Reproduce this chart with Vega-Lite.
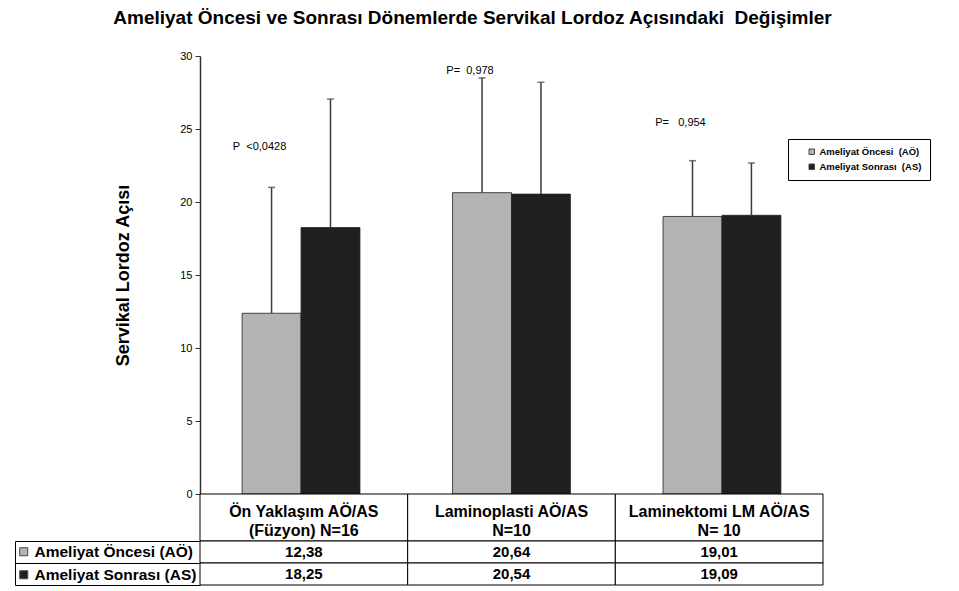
{
  "$schema": "https://vega.github.io/schema/vega-lite/v6.json",
  "padding": {"left": 14, "top": 9, "right": 10, "bottom": 2},
  "background": "white",
  "title": {
    "text": "Ameliyat Öncesi ve Sonrası Dönemlerde Servikal Lordoz Açısındaki\u00a0\u00a0Değişimler",
    "fontSize": 19, "fontWeight": "bold", "font": "Liberation Sans", "color": "#000",
    "anchor": "middle", "offset": 22
  },
  "datasets": {
    "bars": [
      {"category": "Ön Yaklaşım AÖ/AS\n(Füzyon) N=16", "series": "Ameliyat Öncesi (AÖ)", "value": 12.38, "upper": 21.0},
      {"category": "Ön Yaklaşım AÖ/AS\n(Füzyon) N=16", "series": "Ameliyat Sonrası (AS)", "value": 18.25, "upper": 27.05},
      {"category": "Laminoplasti AÖ/AS\nN=10", "series": "Ameliyat Öncesi (AÖ)", "value": 20.64, "upper": 28.5},
      {"category": "Laminoplasti AÖ/AS\nN=10", "series": "Ameliyat Sonrası (AS)", "value": 20.54, "upper": 28.2},
      {"category": "Laminektomi LM AÖ/AS\nN= 10", "series": "Ameliyat Öncesi (AÖ)", "value": 19.01, "upper": 22.83},
      {"category": "Laminektomi LM AÖ/AS\nN= 10", "series": "Ameliyat Sonrası (AS)", "value": 19.09, "upper": 22.67}
    ],
    "pvals": [
      {"category": "Ön Yaklaşım AÖ/AS\n(Füzyon) N=16", "series": "Ameliyat Öncesi (AÖ)", "label": "P\u00a0\u00a0<0,0428", "pos": 23.8},
      {"category": "Laminoplasti AÖ/AS\nN=10", "series": "Ameliyat Öncesi (AÖ)", "label": "P=\u00a0\u00a00,978", "pos": 29.0},
      {"category": "Laminektomi LM AÖ/AS\nN= 10", "series": "Ameliyat Öncesi (AÖ)", "label": "P=\u00a0\u00a0\u00a00,954", "pos": 25.4}
    ],
    "header": [
      {"category": "Ön Yaklaşım AÖ/AS\n(Füzyon) N=16"},
      {"category": "Laminoplasti AÖ/AS\nN=10"},
      {"category": "Laminektomi LM AÖ/AS\nN= 10"}
    ]
  },
  "spacing": 0,
  "bounds": "flush",
  "resolve": {"legend": {"fill": "independent"}},
  "vconcat": [
    {
      "width": 623,
      "height": 438,
      "data": {"name": "bars"},
      "layer": [
        {
          "mark": {"type": "bar", "stroke": "#222", "strokeWidth": 0.8},
          "encoding": {
            "x": {"field": "category", "type": "nominal", "sort": null, "axis": null, "scale": {"paddingInner": 0.44, "paddingOuter": 0.2}},
            "xOffset": {"field": "series", "type": "nominal", "sort": null},
            "y": {
              "field": "value", "type": "quantitative", "title": "Servikal Lordoz Açısı",
              "scale": {"domain": [0, 30]},
              "axis": {
                "titleFontSize": 18, "titleFontWeight": "bold", "titleColor": "#000", "titlePadding": 47,
                "values": [0, 5, 10, 15, 20, 25, 30], "labelFontSize": 11, "labelColor": "#000",
                "tickColor": "#333", "domainColor": "#333", "domainWidth": 1.5, "tickSize": 5, "grid": false, "labelPadding": 3
              }
            },
            "fill": {
              "field": "series", "type": "nominal", "sort": null,
              "scale": {"range": ["#b3b3b3", "#1f1f1f"]},
              "legend": {
                "orient": "none", "legendX": 588, "legendY": 83, "title": null,
                "strokeColor": "#000", "fillColor": "white", "padding": 8, "symbolOffset": 11,
                "symbolType": "square", "symbolSize": 30, "symbolStrokeColor": "#444", "symbolStrokeWidth": 1,
                "labelFontSize": 9.5, "labelFontWeight": "bold", "labelColor": "#000", "rowPadding": 4, "labelOffset": 3,
                "labelExpr": "replace(datum.label, ' (', '\u00a0\u00a0(') + '\u00a0\u00a0\u00a0\u00a0\u00a0\u00a0'"
              }
            }
          }
        },
        {
          "mark": {"type": "rule", "color": "#3c3c3c", "strokeWidth": 1.5},
          "encoding": {
            "x": {"field": "category", "type": "nominal", "sort": null},
            "xOffset": {"field": "series", "type": "nominal", "sort": null},
            "y": {"field": "value", "type": "quantitative", "title": "Servikal Lordoz Açısı"},
            "y2": {"field": "upper"}
          }
        },
        {
          "mark": {"type": "tick", "color": "#3c3c3c", "thickness": 1.5, "size": 7},
          "encoding": {
            "x": {"field": "category", "type": "nominal", "sort": null},
            "xOffset": {"field": "series", "type": "nominal", "sort": null},
            "y": {"field": "upper", "type": "quantitative", "title": "Servikal Lordoz Açısı"}
          }
        },
        {
          "data": {"name": "pvals"},
          "mark": {"type": "text", "fontSize": 11, "dx": -12, "align": "center", "color": "#000"},
          "encoding": {
            "x": {"field": "category", "type": "nominal", "sort": null},
            "xOffset": {"field": "series", "type": "nominal", "sort": null},
            "y": {"field": "pos", "type": "quantitative", "title": "Servikal Lordoz Açısı"},
            "text": {"field": "label"}
          }
        }
      ]
    },
    {
      "width": 623,
      "height": 47,
      "data": {"name": "header"},
      "encoding": {
        "x": {"field": "category", "type": "nominal", "sort": null, "axis": null, "scale": {"paddingInner": 0, "paddingOuter": 0}}
      },
      "layer": [
        {"mark": {"type": "rect", "fill": "white", "stroke": "#000", "strokeWidth": 1}},
        {
          "mark": {"type": "text", "fontSize": 16, "fontWeight": "bold", "lineBreak": "\n", "lineHeight": 19, "dy": -6, "color": "#000"},
          "encoding": {"text": {"field": "category"}}
        }
      ]
    },
    {
      "width": 623,
      "height": 44,
      "data": {"name": "bars"},
      "encoding": {
        "x": {"field": "category", "type": "nominal", "sort": null, "axis": null, "scale": {"paddingInner": 0, "paddingOuter": 0}},
        "y": {
          "field": "series", "type": "nominal", "sort": null,
          "scale": {"paddingInner": 0, "paddingOuter": 0},
          "axis": {
            "orient": "left", "offset": 185, "tickSize": -185, "tickBand": "extent",
            "tickColor": "#000", "tickWidth": 1, "domainColor": "#000", "domainWidth": 1,
            "labels": false, "title": null, "grid": false
          }
        }
      },
      "layer": [
        {"mark": {"type": "rect", "fill": "white", "stroke": "#000", "strokeWidth": 1}},
        {
          "mark": {"type": "text", "fontSize": 15, "fontWeight": "bold", "color": "#000"},
          "encoding": {"text": {"field": "value", "type": "quantitative", "format": ".2f"}}
        },
        {
          "mark": {"type": "text"},
          "encoding": {
            "text": {"value": ""},
            "fill": {
              "field": "series", "type": "nominal", "sort": null,
              "legend": {
                "orient": "none", "legendX": -184, "legendY": 3, "title": null,
                "symbolType": "square", "symbolSize": 64, "symbolStrokeColor": "#444", "symbolStrokeWidth": 1,
                "labelFontSize": 15.5, "labelFontWeight": "bold", "labelColor": "#000", "labelOffset": 3,
                "rowPadding": 6, "padding": 0, "labelLimit": 220
              }
            }
          }
        }
      ]
    }
  ],
  "config": {
    "view": {"stroke": null},
    "font": "Liberation Sans",
    "locale": {"number": {"decimal": ",", "thousands": ".", "grouping": [3], "currency": ["", " TL"]}}
  }
}
